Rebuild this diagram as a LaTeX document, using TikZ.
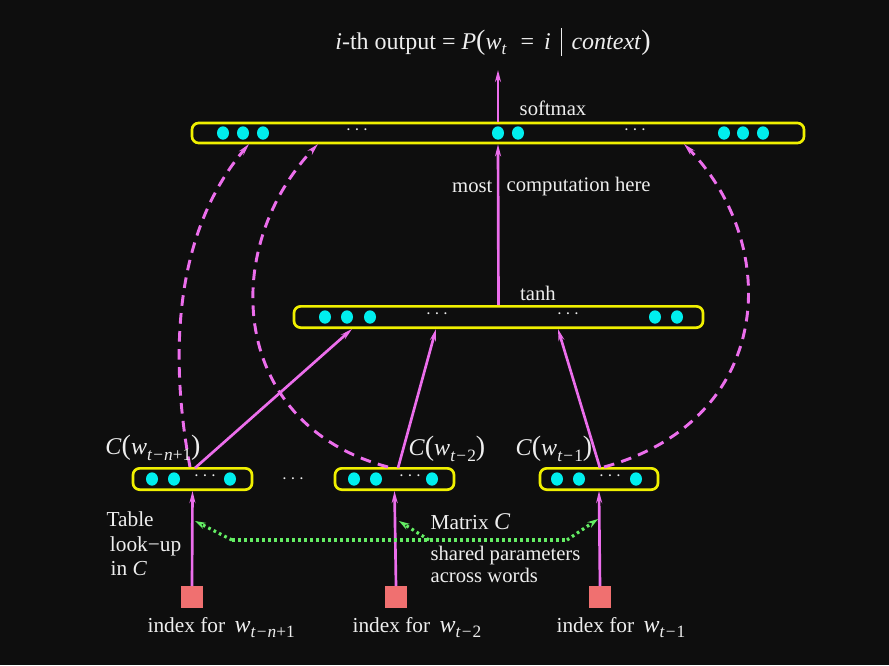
\documentclass[tikz,border=0pt]{standalone}
\usepackage{fontspec}
\setmainfont{Liberation Serif}
\usetikzlibrary{arrows.meta}
\definecolor{bg}{RGB}{14,14,14}
\definecolor{mag}{RGB}{236,110,236}
\definecolor{yel}{RGB}{240,240,0}
\definecolor{cy}{RGB}{0,238,238}
\definecolor{grn}{RGB}{100,238,100}
\definecolor{sqc}{RGB}{240,112,112}
\definecolor{txt}{RGB}{238,238,238}
\newcommand{\mysub}[1]{\raisebox{-0.24em}{\fontsize{13}{13}\selectfont #1}}
\newcommand{\bigw}[1]{{\fontsize{18}{20}\selectfont\textit{w}}\mysub{#1}}
\newcommand{\mns}{\kern0.8pt−\kern0.8pt}
\newcommand{\lp}{{\fontsize{21}{21}\selectfont(}}
\newcommand{\rp}{{\fontsize{21}{21}\selectfont)}}
\begin{document}
\begin{tikzpicture}[x=0.75pt,y=-0.75pt,
  font=\fontsize{15.5}{18}\selectfont, text=txt,
  layerbox/.style={draw=yel, line width=2pt, rounded corners=5pt, inner sep=0pt, minimum height=16pt},
  unitdot/.style={fill=cy, draw=none},
  conn/.style={draw=mag, line width=2pt, -{Stealth[length=9pt,width=4.5pt]}},
  dconn/.style={conn, line width=2.2pt, dash pattern=on 8pt off 5.5pt},
  gconn/.style={draw=grn, line width=2.4pt, dash pattern=on 2pt off 2.5pt, -{Stealth[length=8pt,width=5pt]}},
  idx/.style={fill=sqc, draw=none, minimum width=16.5pt, minimum height=16pt, inner sep=0pt},
  lbl/.style={inner sep=1pt},
  mlbl/.style={inner sep=1pt, font=\fontsize{18}{20}\selectfont}]
\fill[bg] (0,0) rectangle (889,665);
\useasboundingbox (0,0) rectangle (889,665);

% layer boxes
\node[layerbox, minimum width=459pt, minimum height=15pt] (top) at (498,133) {};
\node[layerbox, minimum width=306.75pt] (hid) at (498.5,317) {};
\node[layerbox, minimum width=89.25pt] (b1) at (192.5,479) {};
\node[layerbox, minimum width=89.25pt] (b2) at (394.5,479) {};
\node[layerbox, minimum width=88.5pt] (b3) at (599,479) {};

% dots in boxes
\foreach \x in {223,243,263,498,518,724,743,763}
  \fill[unitdot] (\x,133) ellipse [x radius=4.5pt, y radius=5pt];
\foreach \x in {325,347,370,655,677}
  \fill[unitdot] (\x,317) ellipse [x radius=4.5pt, y radius=5pt];
\foreach \x in {152,174,230,354,376,432,557,579,636}
  \fill[unitdot] (\x,479) ellipse [x radius=4.5pt, y radius=5pt];

\node[lbl] (td1) at (357,130) {$\cdots$};
\node[lbl] (td2) at (635,130) {$\cdots$};
\node[lbl] (hd1) at (437,314) {$\cdots$};
\node[lbl] (hd2) at (568,314) {$\cdots$};
\node[lbl] (bd1) at (205,476) {$\cdots$};
\node[lbl] (bd2) at (410,476) {$\cdots$};
\node[lbl] (bd3) at (610,476) {$\cdots$};
\node[lbl] (mid) at (293,479) {$\cdots$};

% index squares
\node[idx] (s1) at (192,597) {};
\node[idx] (s2) at (396,597) {};
\node[idx] (s3) at (600,597) {};

% anchor coordinates
\coordinate (out) at (498,70);
\coordinate (hA) at (352,329);
\coordinate (hB) at (436,329);
\coordinate (hC) at (558,329);
\coordinate (tA) at (249,144);
\coordinate (tB) at (318,144);
\coordinate (tC) at (684,144);
\coordinate (b1s) at (190,467);
\coordinate (b1a) at (195,468);
\coordinate (b2s) at (388,467);
\coordinate (b2a) at (398,468);
\coordinate (b3s) at (604,467);
\coordinate (b3a) at (600,468);

% connectors
\draw[conn] (top.north) -- (out);
\draw[conn] (hid.north) -- (top.south);
\draw[conn] (b1a) -- (hA);
\draw[conn] (b2a) -- (hB);
\draw[conn] (b3a) -- (hC);
\draw[conn] (s1.north) -- (b1.south);
\draw[conn] (s2.north) -- (b2.south);
\draw[conn] (s3.north) -- (b3.south);
\draw[dconn] (b1s) .. controls (170,360) and (172,235) .. (tA);
\draw[dconn] (b2s) .. controls (230,425) and (218,250) .. (tB);
\draw[dconn] (b3s) .. controls (775,420) and (782,245) .. (tC);

% green shared-parameter arrows
\coordinate (gL) at (232,540);
\coordinate (gM) at (429,540);
\coordinate (gR) at (567,540);
\coordinate (gtL) at (195,521);
\coordinate (gtM) at (399,521);
\coordinate (gtR) at (598,519);
\draw[draw=grn, line width=2.4pt, dash pattern=on 2pt off 2.5pt] (gL) -- (gR);
\draw[gconn] (gL) -- (gtL);
\draw[gconn] (gM) -- (gtM);
\draw[gconn] (gR) -- (gtR);

% labels
\node[mlbl] (title) at (493,42) {\textit{i}-th output = \textit{P}\lp\textit{w}\mysub{\textit{t}}\, \,=\, \textit{i}\, \rule[-0.28em]{0.5pt}{1.15em}\, \textit{context}\rp};
\node[lbl] (smx) at (553,108) {softmax};
\node[lbl] (tnh) at (538,293) {tanh};
\node[lbl, anchor=east] (most) at (494,187) {most};
\node[lbl, anchor=west] (comp) at (505,187) {computation here};
\node[mlbl] (c1) at (153,448) {\textit{C}\lp\textit{w}\mysub{\textit{t}\mns\textit{n}+1}\rp};
\node[mlbl] (c2) at (447,449) {\textit{C}\lp\textit{w}\mysub{\textit{t}\mns2}\rp};
\node[mlbl] (c3) at (554,449) {\textit{C}\lp\textit{w}\mysub{\textit{t}\mns1}\rp};
\node[lbl, anchor=north west, align=left, font=\fontsize{16}{18.5}\selectfont] (tbl) at (105,510) {Table\\\hspace*{2.5pt}look−up\\\hspace*{3pt}in \textit{C}};
\node[lbl, anchor=west, font=\fontsize{16}{18}\selectfont] (mat) at (429,522) {Matrix {\fontsize{18}{18}\selectfont\textit{C}}};
\node[lbl, anchor=north west, align=left, font=\fontsize{15.5}{16.5}\selectfont] (shr) at (429,545) {shared parameters\\across words};
\node[lbl, anchor=base west, font=\fontsize{16}{18}\selectfont] (i1) at (146,632) {index for\hspace{7pt}\bigw{\textit{t}\mns\textit{n}+1}};
\node[lbl, anchor=base west, font=\fontsize{16}{18}\selectfont] (i2) at (351,632) {index for\hspace{7pt}\bigw{\textit{t}\mns2}};
\node[lbl, anchor=base west, font=\fontsize{16}{18}\selectfont] (i3) at (555,632) {index for\hspace{7pt}\bigw{\textit{t}\mns1}};
\end{tikzpicture}
\end{document}
